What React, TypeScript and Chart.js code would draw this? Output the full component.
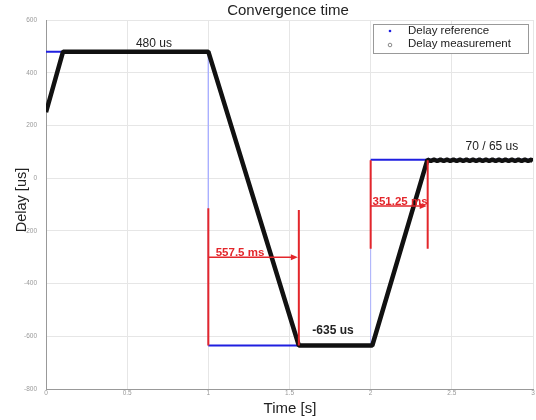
import React, { useEffect, useRef } from 'react';
import { Chart, registerables } from 'chart.js';

Chart.register(...registerables);

// Reference delay (step profile)
const refTime = [0, 1, 1, 2, 2, 3];
const refDelay = [480, 480, -635, -635, 70, 70];

// Measured delay
const measTime = [
  0, 0.105, 1.0, 1.5575, 2.01,
  2.35, 2.37, 2.39, 2.41, 2.43, 2.45, 2.47, 2.49, 2.51, 2.53, 2.55, 2.57,
  2.59, 2.61, 2.63, 2.65, 2.67, 2.69, 2.71, 2.73, 2.75, 2.77, 2.79, 2.81,
  2.83, 2.85, 2.87, 2.89, 2.91, 2.93, 2.95, 2.97, 2.99, 3.0,
];
const measDelay = [
  250, 480, 480, -635, -635,
  70, 65, 70, 65, 70, 65, 70, 65, 70, 65, 70, 65,
  70, 65, 70, 65, 70, 65, 70, 65, 70, 65, 70, 65,
  70, 65, 70, 65, 70, 65, 70, 65, 70, 65,
];

// Axis ticks
const xTicks = [0, 0.5, 1, 1.5, 2, 2.5, 3];
const xTickLabels = ['0', '0.5', '1', '1.5', '2', '2.5', '3'];
const yTicks = [-800, -600, -400, -200, 0, 200, 400, 600];

// Convergence-time spans (red)
const spanStart = [1.0, 2.0];
const spanEnd = [1.5575, 2.35125];
const spanTopLeft = [-114, 68];
const spanTopRight = [-121, 68];
const spanBottom = [-635, -268];
const spanArrow = [-300, -106];
const spanLabelTime = [1.195, 2.181];
const spanLabels = ['557.5 ms', '351.25 ms'];

// Level labels
const levelLabels = ['480 us', '-635 us', '70 / 65 us'];
const levelLabelTime = [0.665, 1.768, 2.747];
const levelLabelDelay = [512, -577, 118];
const levelLabelBold = [false, true, false];

const legendLabels = ['Delay reference', 'Delay measurement'];

const FONT = '"Liberation Sans", Arial, sans-serif';
const BLUE = '#1f1fe0';
const LIGHT_BLUE = '#a9b0ff';
const BLACK = '#111111';
const RED = '#e3262b';

const annotPlugin = {
  id: 'annot',
  afterDatasetsDraw(chart: any) {
    const { ctx } = chart;
    const x = chart.scales.x;
    const y = chart.scales.y;
    ctx.save();
    // red spans
    for (let i = 0; i < spanStart.length; i++) {
      const xl = x.getPixelForValue(spanStart[i]);
      const xr = x.getPixelForValue(spanEnd[i]);
      const yb = y.getPixelForValue(spanBottom[i]);
      ctx.strokeStyle = RED;
      ctx.lineWidth = 2;
      ctx.beginPath();
      ctx.moveTo(xl, y.getPixelForValue(spanTopLeft[i]));
      ctx.lineTo(xl, yb);
      ctx.moveTo(xr, y.getPixelForValue(spanTopRight[i]));
      ctx.lineTo(xr, yb);
      ctx.stroke();
      const ya = y.getPixelForValue(spanArrow[i]);
      ctx.lineWidth = 1.5;
      ctx.beginPath();
      ctx.moveTo(xl, ya);
      ctx.lineTo(xr - 4, ya);
      ctx.stroke();
      ctx.fillStyle = RED;
      ctx.beginPath();
      ctx.moveTo(xr - 1, ya);
      ctx.lineTo(xr - 8, ya - 3);
      ctx.lineTo(xr - 8, ya + 3);
      ctx.closePath();
      ctx.fill();
      ctx.font = `bold 11.5px ${FONT}`;
      ctx.textAlign = 'center';
      ctx.textBaseline = 'alphabetic';
      ctx.fillText(spanLabels[i], x.getPixelForValue(spanLabelTime[i]), ya - 1);
    }
    // level labels
    ctx.fillStyle = '#222';
    ctx.textAlign = 'center';
    ctx.textBaseline = 'middle';
    for (let i = 0; i < levelLabels.length; i++) {
      ctx.font = `${levelLabelBold[i] ? 'bold ' : ''}12px ${FONT}`;
      ctx.fillText(
        levelLabels[i],
        x.getPixelForValue(levelLabelTime[i]),
        y.getPixelForValue(levelLabelDelay[i])
      );
    }
    ctx.restore();
  },
  afterDraw(chart: any) {
    const { ctx } = chart;
    ctx.save();
    ctx.fillStyle = '#222';
    ctx.textAlign = 'center';
    ctx.textBaseline = 'middle';
    ctx.font = `15px ${FONT}`;
    ctx.fillText('Convergence time', 288, 11);
    ctx.fillText('Time [s]', 290, 409);
    ctx.save();
    ctx.translate(22, 200);
    ctx.rotate(-Math.PI / 2);
    ctx.font = `14.5px ${FONT}`;
    ctx.fillText('Delay [us]', 0, 0);
    ctx.restore();

    // legend
    ctx.fillStyle = '#ffffff';
    ctx.fillRect(373, 24, 155, 29);
    ctx.strokeStyle = '#999';
    ctx.lineWidth = 1;
    ctx.strokeRect(373.5, 24.5, 155, 29);
    ctx.fillStyle = BLUE;
    ctx.beginPath();
    ctx.arc(390, 31, 1.3, 0, Math.PI * 2);
    ctx.fill();
    ctx.strokeStyle = '#888';
    ctx.beginPath();
    ctx.arc(390, 45, 1.8, 0, Math.PI * 2);
    ctx.stroke();
    ctx.fillStyle = '#222';
    ctx.textAlign = 'left';
    ctx.font = `11.5px ${FONT}`;
    ctx.fillText(legendLabels[0], 408, 31);
    ctx.fillText(legendLabels[1], 408, 44);
    ctx.restore();
  },
};

export default function App() {
  const canvasRef = useRef<HTMLCanvasElement | null>(null);

  useEffect(() => {
    if (!canvasRef.current) return;
    const refPoints = refTime.map((t, i) => ({ x: t, y: refDelay[i] }));
    const measPoints = measTime.map((t, i) => ({ x: t, y: measDelay[i] }));
    const chart = new Chart(canvasRef.current, {
      type: 'scatter',
      data: {
        datasets: [
          {
            label: legendLabels[1],
            data: measPoints,
            showLine: true,
            borderColor: BLACK,
            borderWidth: 4.5,
            borderJoinStyle: 'bevel',
            pointRadius: 0,
            order: 0,
          },
          {
            label: legendLabels[0],
            data: refPoints,
            showLine: true,
            borderColor: BLUE,
            borderWidth: 2,
            pointRadius: 0,
            order: 1,
            segment: {
              borderColor: (c: any) => (c.p0.parsed.x === c.p1.parsed.x ? LIGHT_BLUE : BLUE),
              borderWidth: (c: any) => (c.p0.parsed.x === c.p1.parsed.x ? 1 : 2),
            },
          },
        ],
      },
      options: {
        animation: false,
        responsive: true,
        maintainAspectRatio: false,
        layout: { padding: { left: 0, right: 3, top: 20, bottom: 0 } },
        plugins: {
          legend: { display: false },
          title: { display: false },
          tooltip: { enabled: false },
        },
        scales: {
          x: {
            type: 'linear',
            min: 0,
            max: 3,
            afterBuildTicks: (s: any) => {
              s.ticks = xTicks.map((v) => ({ value: v }));
            },
            afterFit: (s: any) => {
              s.height = 31;
            },
            grid: { color: '#e6e6e6', drawTicks: false },
            border: { color: '#999' },
            ticks: {
              font: { size: 6.5, family: FONT },
              color: '#999',
              padding: 0,
              maxRotation: 0,
              callback: (v: any) => {
                const idx = xTicks.indexOf(Number(v));
                return idx >= 0 ? xTickLabels[idx] : String(v);
              },
            },
          },
          y: {
            type: 'linear',
            min: -800,
            max: 600,
            afterBuildTicks: (s: any) => {
              s.ticks = yTicks.map((v) => ({ value: v }));
            },
            afterFit: (s: any) => {
              s.width = 46;
            },
            grid: { color: '#e6e6e6', drawTicks: false },
            border: { color: '#999' },
            ticks: {
              font: { size: 6.5, family: FONT },
              color: '#999',
              padding: 9,
            },
          },
        },
      },
      plugins: [annotPlugin],
    } as any);
    return () => chart.destroy();
  }, []);

  return (
    <div style={{ position: 'absolute', left: 0, top: 0, width: 536, height: 420, background: '#fff' }}>
      <canvas ref={canvasRef} />
    </div>
  );
}
